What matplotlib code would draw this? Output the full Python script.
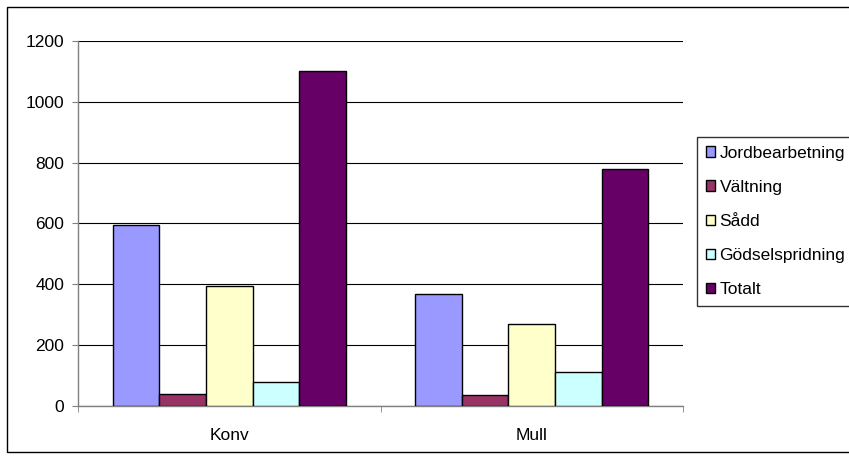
import matplotlib.pyplot as plt
from matplotlib.patches import Rectangle
import numpy as np

plt.rcParams["font.family"] = ["Liberation Sans", "DejaVu Sans"]

categories = ["Konv", "Mull"]
series_names = ["Jordbearbetning", "Vältning", "Sådd", "Gödselspridning", "Totalt"]
jordbearbetning = [595, 368]
valtning = [38, 36]
sadd = [395, 270]
godselspridning = [79, 111]
totalt = [1101, 779]
yticks = [0, 200, 400, 600, 800, 1000, 1200]

series = [jordbearbetning, valtning, sadd, godselspridning, totalt]
colors = ["#9999ff", "#993366", "#ffffcc", "#ccffff", "#660066"]

fs = 12.5
fig = plt.figure(figsize=(8.49, 4.68), dpi=100)
ax = fig.add_axes([78 / 849, (468 - 406) / 468, (683 - 78) / 849, (406 - 41) / 468])

n = len(series)
bar_w = 1 / (n + 1.5)
x = np.arange(len(categories))
for i, (vals, c, name) in enumerate(zip(series, colors, series_names)):
    offs = -0.5 + 0.75 * bar_w + i * bar_w + bar_w / 2
    ax.bar(x + offs, vals, width=bar_w, color=c, edgecolor="black",
           linewidth=1.0, label=name, zorder=3)

ax.set_xlim(-0.5, len(categories) - 0.5)
ax.set_ylim(0, 1200)
ax.set_yticks(yticks)
ax.set_yticklabels([str(v) for v in yticks], fontsize=fs)
ax.yaxis.grid(True, color="black", linewidth=0.8, zorder=0)
ax.set_xticks(x)
ax.set_xticklabels(categories, fontsize=fs)
ax.tick_params(axis="x", length=0, pad=16)
ax.set_xticks(np.arange(-0.5, len(categories)), minor=True)
ax.tick_params(axis="x", which="minor", length=4, color="#808080")
ax.tick_params(axis="y", length=4, color="#808080", pad=6)
for s in ["top", "right"]:
    ax.spines[s].set_visible(False)
for s in ["left", "bottom"]:
    ax.spines[s].set_color("#808080")
    ax.spines[s].set_linewidth(1.0)

fig.patches.append(Rectangle((7 / 849, 16 / 468), 850 / 849, 445 / 468,
                             transform=fig.transFigure, fill=False,
                             edgecolor="black", linewidth=1.0))

leg = fig.legend(loc="upper left", bbox_to_anchor=(697 / 849, 1 - 137 / 468),
                 fontsize=fs, frameon=True, fancybox=False, edgecolor="black",
                 handlelength=0.55, handleheight=0.55, handletextpad=0.25,
                 labelspacing=1.1, borderpad=0.5, borderaxespad=0)
leg.get_frame().set_linewidth(1.0)

fig.savefig("out.png", dpi=100, facecolor="white")
